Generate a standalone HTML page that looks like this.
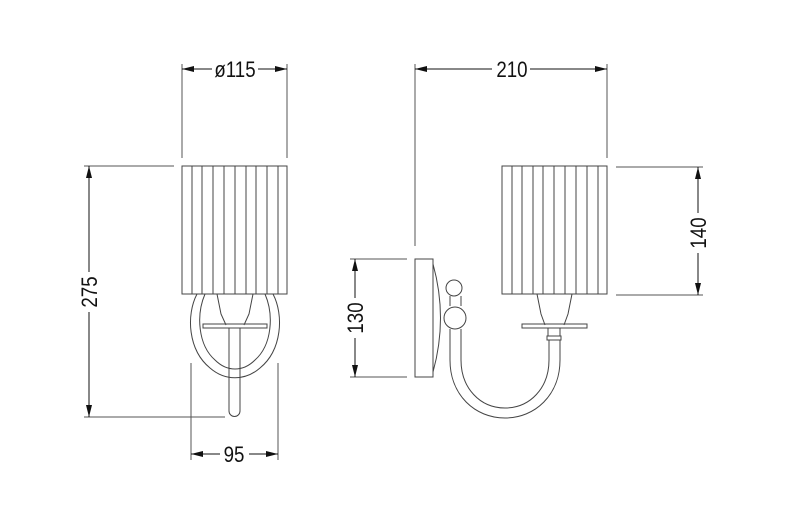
<!DOCTYPE html>
<html><head><meta charset="utf-8"><style>
html,body{margin:0;padding:0;background:#fff;}
svg{display:block;}
text{font-family:"Liberation Sans",sans-serif;font-size:22px;fill:#111;}
</style></head><body>
<svg width="800" height="526" viewBox="0 0 800 526" xmlns="http://www.w3.org/2000/svg">
<defs>
<marker id="a" viewBox="0 0 12 6" refX="12" refY="3" markerWidth="12" markerHeight="6" orient="auto-start-reverse" markerUnits="userSpaceOnUse"><path d="M0,0 L12,3 L0,6 z" fill="#111"/></marker>
</defs>
<g stroke="#555" stroke-width="1" fill="none">
<!-- dimension ext lines -->
<line x1="182" y1="64" x2="182" y2="158"/>
<line x1="287" y1="64" x2="287" y2="158"/>
<line x1="415" y1="64" x2="415" y2="246"/>
<line x1="607" y1="64" x2="607" y2="158"/>
<line x1="84" y1="166" x2="174" y2="166"/>
<line x1="84" y1="417" x2="225" y2="417"/>
<line x1="191" y1="363" x2="191" y2="460"/>
<line x1="278" y1="363" x2="278" y2="460"/>
<line x1="350" y1="259" x2="407" y2="259"/>
<line x1="350" y1="377" x2="407" y2="377"/>
<line x1="616" y1="167" x2="703" y2="167"/>
<line x1="616" y1="295" x2="703" y2="295"/>
</g>
<g stroke="#111" stroke-width="1" fill="none">
<!-- dim lines -->
<line x1="182" y1="69" x2="212" y2="69" marker-start="url(#a)"/>
<line x1="258" y1="69" x2="287" y2="69" marker-end="url(#a)"/>
<line x1="415" y1="69" x2="492" y2="69" marker-start="url(#a)"/>
<line x1="530" y1="69" x2="607" y2="69" marker-end="url(#a)"/>
<line x1="89" y1="166" x2="89" y2="272" marker-start="url(#a)"/>
<line x1="89" y1="312" x2="89" y2="417" marker-end="url(#a)"/>
<line x1="191" y1="454" x2="220" y2="454" marker-start="url(#a)"/>
<line x1="249" y1="454" x2="278" y2="454" marker-end="url(#a)"/>
<line x1="355" y1="259" x2="355" y2="298" marker-start="url(#a)"/>
<line x1="355" y1="338" x2="355" y2="377" marker-end="url(#a)"/>
<line x1="698" y1="167" x2="698" y2="213" marker-start="url(#a)"/>
<line x1="698" y1="253" x2="698" y2="295" marker-end="url(#a)"/>
</g>
<g text-anchor="middle">
<text x="235" y="77" transform="translate(235 0) scale(0.85 1) translate(-235 0)">ø115</text>
<text x="512" y="77" transform="translate(512 0) scale(0.85 1) translate(-512 0)">210</text>
<text x="234" y="462" transform="translate(234 0) scale(0.85 1) translate(-234 0)">95</text>
<text transform="translate(97 292) rotate(-90) scale(0.85 1)">275</text>
<text transform="translate(363 318) rotate(-90) scale(0.85 1)">130</text>
<text transform="translate(706 233) rotate(-90) scale(0.85 1)">140</text>
</g>
<g stroke="#444" stroke-width="1" fill="none">
<!-- left view shade -->
<rect x="182" y="166" width="105" height="128"/>
<path d="M192 166V294M202 166V294M213 166V294M224 166V294M235 166V294M246 166V294M256 166V294M267 166V294M278 166V294"/>
<!-- loop -->
<path d="M197 294 C186 315 188 350 210 368 C225 381 245 381 260 368 C282 350 284 315 273 294"/>
<path d="M205 294 C196 315 198 345 215 360 C227 372 243 372 255 360 C272 345 274 315 265 294"/>
<!-- socket -->
<path d="M217 294 L221 314 L226 325 M253 294 L249 314 L244 325"/>
<rect x="203" y="324" width="64" height="4"/>
<path d="M229 328 V411 A5.5 5.5 0 0 0 240 411 V328"/>
<!-- right view shade -->
<rect x="502" y="166" width="105" height="128"/>
<path d="M512 166V294M522 166V294M533 166V294M543 166V294M554 166V294M565 166V294M576 166V294M587 166V294M598 166V294"/>
<!-- socket -->
<path d="M537 294 L541 314 L545 325 M572 294 L568 314 L564 325"/>
<rect x="522" y="324" width="65" height="4"/>
<rect x="548" y="328" width="12" height="8"/>
<rect x="547" y="336" width="14" height="4"/>
<!-- wall plate -->
<rect x="415" y="259" width="18" height="118"/>
<path d="M433 264 Q448 318 433 372"/>
<!-- balls -->
<circle cx="454" cy="288" r="8"/>
<circle cx="455" cy="318" r="11"/>
<!-- arm -->
<path d="M450 296 V306 M461 296 V306"/>
<path d="M450 329 V360 C450 395 475 418 505 418 C535 418 560 395 560 360 V340"/>
<path d="M461 329 V360 C461 388 480 408 505 408 C530 408 549 388 549 360 V340"/>
</g>
</svg>
</body></html>
